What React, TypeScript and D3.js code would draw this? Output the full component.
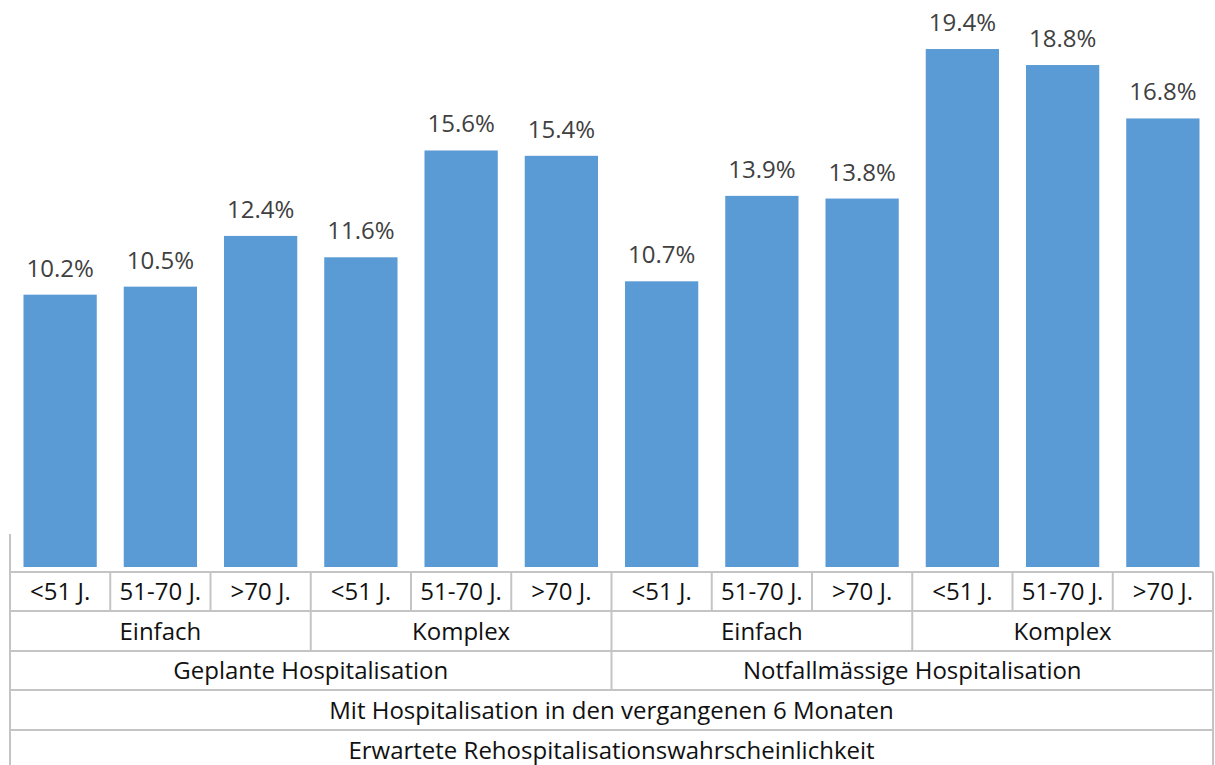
import React from "react";
import * as d3 from "d3";

const ages = ["<51 J.", "51-70 J.", ">70 J."];
const complexity = ["Einfach", "Komplex"];
const admission = ["Geplante Hospitalisation", "Notfallmässige Hospitalisation"];
const row4 = ["Mit Hospitalisation in den vergangenen 6 Monaten"];
const row5 = ["Erwartete Rehospitalisationswahrscheinlichkeit"];
const values = [10.2, 10.5, 12.4, 11.6, 15.6, 15.4, 10.7, 13.9, 13.8, 19.4, 18.8, 16.8];

const W = 1215, H = 765;
const left = 10, right = 1213;
const baseY = 567;
const rowTops = [572, 611, 651, 690, 730, 770];
const FONT = "'Open Sans', 'Noto Sans', sans-serif";
const FS = 24;
const lineColor = "#c4c4c4";

export default function App() {
  const idx = values.map((_, i) => i);
  const x = d3.scaleBand<number>().domain(idx).range([left, right]).paddingInner(0.269).paddingOuter(0.1345);
  const y = d3.scaleLinear().domain([0, 20]).range([baseY, baseY - 20 * 26.7]);
  const step = (right - left) / values.length;
  const edge = (i: number) => left + i * step;
  const fmt = (v: number) => v.toFixed(1) + "%";

  const rows: { start: number; span: number; label: string }[][] = [
    values.map((_, i) => ({ start: i, span: 1, label: ages[i % 3] })),
    d3.range(4).map((g) => ({ start: g * 3, span: 3, label: complexity[g % 2] })),
    d3.range(2).map((g) => ({ start: g * 6, span: 6, label: admission[g] })),
    [{ start: 0, span: 12, label: row4[0] }],
    [{ start: 0, span: 12, label: row5[0] }],
  ];

  return (
    <div style={{ position: "absolute", left: 0, top: 0 }}>
      <svg width={W} height={H} style={{ display: "block", background: "#fff" }}>
        {values.map((v, i) => (
          <rect key={"b" + i} x={x(i)} y={y(v)} width={x.bandwidth()} height={baseY - y(v)} fill="#5b9bd5" />
        ))}
        {values.map((v, i) => (
          <text key={"l" + i} x={x(i)! + x.bandwidth() / 2} y={y(v) - 18} textAnchor="middle"
            fontFamily={FONT} fontSize={FS} fill="#404040">{fmt(v)}</text>
        ))}
        {rowTops.slice(0, 5).map((ty, i) => (
          <line key={"h" + i} x1={left} x2={right} y1={ty} y2={ty} stroke={lineColor} strokeWidth={2} />
        ))}
        <line x1={left} x2={left} y1={534} y2={H} stroke={lineColor} strokeWidth={2} />
        <line x1={right} x2={right} y1={rowTops[0]} y2={H} stroke={lineColor} strokeWidth={2} />
        {rows.map((cells, r) =>
          cells.map((c, k) => (
            <g key={"c" + r + "-" + k}>
              {c.start > 0 && (
                <line x1={edge(c.start)} x2={edge(c.start)} y1={rowTops[r]} y2={rowTops[r + 1]}
                  stroke={lineColor} strokeWidth={2} />
              )}
              <text x={(edge(c.start) + edge(c.start + c.span)) / 2} y={(rowTops[r] + rowTops[r + 1]) / 2 + 8.5}
                textAnchor="middle" fontFamily={FONT} fontSize={FS} fill="#111">{c.label}</text>
            </g>
          ))
        )}
      </svg>
    </div>
  );
}
